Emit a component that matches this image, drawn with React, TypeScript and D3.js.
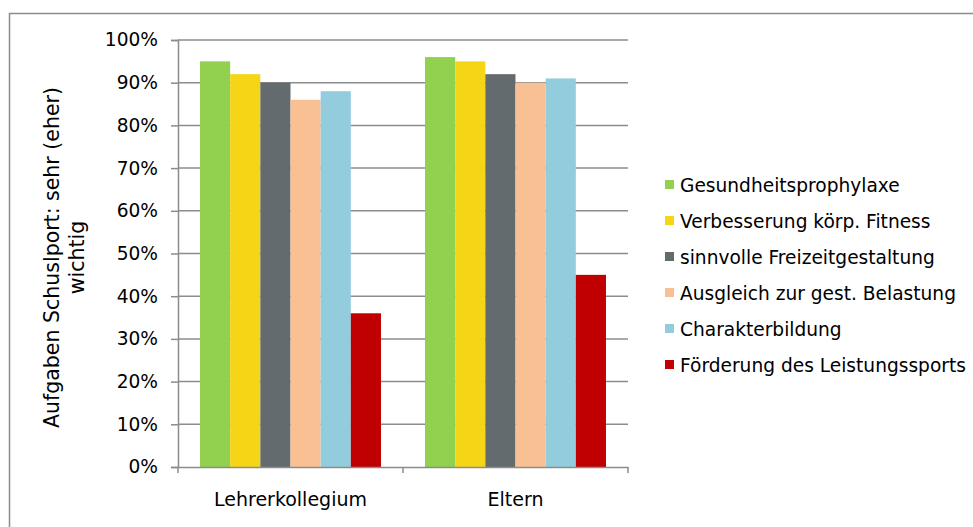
import React, { useEffect, useRef } from "react";
import * as d3 from "d3";

const categories = ["Lehrerkollegium", "Eltern"];
const seriesNames = [
  "Gesundheitsprophylaxe",
  "Verbesserung körp. Fitness",
  "sinnvolle Freizeitgestaltung",
  "Ausgleich zur gest. Belastung",
  "Charakterbildung",
  "Förderung des Leistungssports",
];
const seriesColors = ["#92D050", "#F5D617", "#646B6E", "#F9C093", "#93CDDD", "#C00000"];
const lehrerValues = [95, 92, 90, 86, 88, 36];
const elternValues = [96, 95, 92, 90, 91, 45];
const yTicks = [0, 10, 20, 30, 40, 50, 60, 70, 80, 90, 100];

const App = () => {
  const svgRef = useRef<SVGSVGElement>(null);

  useEffect(() => {
    const width = 973;
    const height = 527;
    const marginLeft = 178;
    const plotRight = 628;
    const marginTop = 40;
    const plotBottom = 467;
    const font = "DejaVu Sans, Verdana, sans-serif";
    const fontSize = 18.6;

    const svg = d3.select(svgRef.current).attr("width", width).attr("height", height);
    svg.selectAll("*").remove();

    // Outer chart border
    svg
      .append("rect")
      .attr("x", 9.5)
      .attr("y", 13.5)
      .attr("width", 975)
      .attr("height", 540)
      .attr("fill", "white")
      .attr("stroke", "#8c8c8c")
      .attr("stroke-width", 1.5);

    const values = [lehrerValues, elternValues];

    const x0 = d3.scaleBand().domain(categories).range([marginLeft, plotRight]);
    const x1 = d3
      .scaleBand()
      .domain(seriesNames)
      .range([0, x0.bandwidth()])
      .paddingOuter(0.73);

    const y = d3.scaleLinear().domain([0, 100]).range([plotBottom, marginTop]);

    // Grid lines
    svg
      .append("g")
      .selectAll("line")
      .data(yTicks.slice(1))
      .join("line")
      .attr("x1", marginLeft)
      .attr("x2", plotRight)
      .attr("y1", (d) => y(d))
      .attr("y2", (d) => y(d))
      .attr("stroke", "#8c8c8c")
      .attr("stroke-width", 1.5);

    // Bars
    svg
      .append("g")
      .selectAll("g")
      .data(categories)
      .join("g")
      .attr("transform", (d) => `translate(${x0(d)},0)`)
      .selectAll("rect")
      .data((_, i) => seriesNames.map((s, j) => ({ s, v: values[i][j], c: seriesColors[j] })))
      .join("rect")
      .attr("x", (d) => x1(d.s)!)
      .attr("width", x1.bandwidth())
      .attr("y", (d) => y(d.v))
      .attr("height", (d) => y(0) - y(d.v))
      .attr("fill", (d) => d.c);

    // Y axis
    const yAxis = svg
      .append("g")
      .attr("transform", `translate(${marginLeft},0)`)
      .call(
        d3
          .axisLeft(y)
          .tickValues(yTicks)
          .tickSize(7)
          .tickPadding(13)
          .tickFormat((d) => `${d}%`)
      );
    yAxis.selectAll("path,line").attr("stroke", "#8c8c8c").attr("stroke-width", 1.5);
    yAxis.selectAll("text").attr("font-family", font).attr("font-size", fontSize).attr("fill", "#000");

    // X axis
    const xAxis = svg
      .append("g")
      .attr("transform", `translate(0,${plotBottom})`)
      .call(d3.axisBottom(x0).tickSize(0).tickPadding(26));
    xAxis.select(".domain").attr("stroke", "#8c8c8c").attr("stroke-width", 1.5);
    xAxis.selectAll("text").attr("font-family", font).attr("font-size", 19).attr("fill", "#000");
    svg
      .append("g")
      .selectAll("line")
      .data([marginLeft, x0(categories[1])!, plotRight])
      .join("line")
      .attr("x1", (d) => d)
      .attr("x2", (d) => d)
      .attr("y1", plotBottom)
      .attr("y2", plotBottom + 6)
      .attr("stroke", "#8c8c8c")
      .attr("stroke-width", 1.5);

    // Y axis title
    const title = svg
      .append("text")
      .attr("transform", `translate(52,${(marginTop + plotBottom) / 2 + 4}) rotate(-90)`)
      .attr("text-anchor", "middle")
      .attr("font-family", font)
      .attr("font-size", 20.5)
      .attr("fill", "#000");
    title.append("tspan").attr("x", 0).attr("dy", "0.35em").text("Aufgaben Schuslport: sehr (eher)");
    title.append("tspan").attr("x", 0).attr("dy", "1.2em").text("wichtig");

    // Legend
    const legend = svg
      .append("g")
      .selectAll("g")
      .data(seriesNames)
      .join("g")
      .attr("transform", (_, i) => `translate(665,${185 + i * 36})`);
    legend
      .append("rect")
      .attr("x", 0)
      .attr("y", -5)
      .attr("width", 9)
      .attr("height", 9)
      .attr("fill", (_, i) => seriesColors[i]);
    legend
      .append("text")
      .attr("x", 15)
      .attr("dy", "0.35em")
      .attr("font-family", font)
      .attr("font-size", fontSize)
      .attr("fill", "#000")
      .text((d) => d);
  }, []);

  return (
    <div>
      <svg ref={svgRef} style={{ position: "absolute", left: 0, top: 0 }}></svg>
    </div>
  );
};

export default App;
